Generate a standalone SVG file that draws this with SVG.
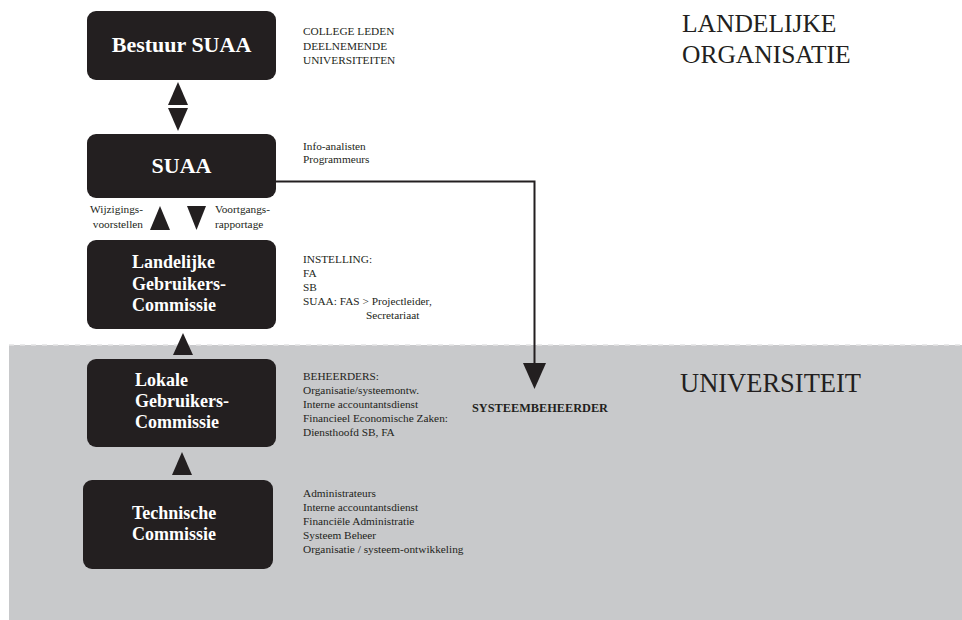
<svg xmlns="http://www.w3.org/2000/svg" width="962" height="620" viewBox="0 0 962 620">
<style>
.box{fill:#231f20}
.bt{font-family:"Liberation Serif",serif;font-weight:bold;fill:#ffffff}
.sm{font-family:"Liberation Serif",serif;font-size:11.3px;fill:#231f20}
.big{font-family:"Liberation Serif",serif;font-size:25.5px;fill:#231f20}
.tri{fill:#231f20}
</style>
<rect x="0" y="0" width="962" height="620" fill="#ffffff"/>
<rect id="universiteit-zone" x="9" y="345" width="953" height="275" fill="#c8c9cb"/>
<line x1="9" y1="345" x2="962" y2="345" stroke="#e4e4e5" stroke-width="1.5" stroke-dasharray="5,6"/>

<g id="connectors">
  <polygon class="tri" points="178,82 168,105 188,105"/>
  <polygon class="tri" points="168,108 188,108 178,131"/>
  <polygon class="tri" points="160,206 150,230 170,230"/>
  <polygon class="tri" points="187,206 206,206 196.5,230"/>
  <polygon class="tri" points="183,333 173,355 193,355"/>
  <polygon class="tri" points="182,452 172,475 192,475"/>
  <polyline points="276,181.5 534.5,181.5 534.5,364" fill="none" stroke="#231f20" stroke-width="2"/>
  <polygon class="tri" points="523,363 546,363 534.5,389"/>
</g>

<g id="bestuur-suaa">
  <rect class="box" x="87" y="11" width="189" height="69" rx="9"/>
  <text class="bt" x="181.5" y="52" font-size="22" text-anchor="middle">Bestuur SUAA</text>
  <text class="sm" x="303" y="35">COLLEGE LEDEN</text>
  <text class="sm" x="303" y="49.5">DEELNEMENDE</text>
  <text class="sm" x="303" y="64">UNIVERSITEITEN</text>
</g>

<g id="suaa">
  <rect class="box" x="87" y="134" width="189" height="64" rx="9"/>
  <text class="bt" x="181.5" y="173" font-size="22" text-anchor="middle">SUAA</text>
  <text class="sm" x="303" y="150">Info-analisten</text>
  <text class="sm" x="303" y="163">Programmeurs</text>
</g>

<g id="labels-suaa-lgc">
  <text class="sm" x="143" y="213" text-anchor="end">Wijzigings-</text>
  <text class="sm" x="143" y="228" text-anchor="end">voorstellen</text>
  <text class="sm" x="215" y="213">Voortgangs-</text>
  <text class="sm" x="215" y="228">rapportage</text>
</g>

<g id="landelijke-gebruikers-commissie">
  <rect class="box" x="87" y="240" width="189" height="89" rx="9"/>
  <text class="bt" x="132" y="268" font-size="18">Landelijke</text>
  <text class="bt" x="132" y="290" font-size="18">Gebruikers-</text>
  <text class="bt" x="132" y="311" font-size="18">Commissie</text>
  <text class="sm" x="303" y="263">INSTELLING:</text>
  <text class="sm" x="303" y="277">FA</text>
  <text class="sm" x="303" y="291">SB</text>
  <text class="sm" x="303" y="305">SUAA: FAS &gt; Projectleider,</text>
  <text class="sm" x="366" y="319">Secretariaat</text>
</g>

<g id="lokale-gebruikers-commissie">
  <rect class="box" x="87" y="359" width="189" height="88" rx="9"/>
  <text class="bt" x="135" y="386" font-size="18">Lokale</text>
  <text class="bt" x="135" y="407" font-size="18">Gebruikers-</text>
  <text class="bt" x="135" y="428" font-size="18">Commissie</text>
  <text class="sm" x="303" y="380">BEHEERDERS:</text>
  <text class="sm" x="303" y="394">Organisatie/systeemontw.</text>
  <text class="sm" x="303" y="408">Interne accountantsdienst</text>
  <text class="sm" x="303" y="422">Financieel Economische Zaken:</text>
  <text class="sm" x="303" y="436">Diensthoofd SB, FA</text>
</g>

<g id="systeembeheerder">
  <text x="472" y="412" font-family="Liberation Serif, serif" font-weight="bold" font-size="12.3" fill="#231f20">SYSTEEMBEHEERDER</text>
</g>

<g id="technische-commissie">
  <rect class="box" x="83" y="480" width="190" height="89" rx="9"/>
  <text class="bt" x="132" y="519" font-size="18">Technische</text>
  <text class="bt" x="132" y="540" font-size="18">Commissie</text>
  <text class="sm" x="303" y="497">Administrateurs</text>
  <text class="sm" x="303" y="511">Interne accountantsdienst</text>
  <text class="sm" x="303" y="525">Financiële Administratie</text>
  <text class="sm" x="303" y="539">Systeem Beheer</text>
  <text class="sm" x="303" y="553">Organisatie / systeem-ontwikkeling</text>
</g>

<g id="titles">
  <text class="big" x="682" y="32">LANDELIJKE</text>
  <text class="big" x="682" y="63">ORGANISATIE</text>
  <text class="big" x="680" y="392" style="font-size:26.5px">UNIVERSITEIT</text>
</g>
</svg>
